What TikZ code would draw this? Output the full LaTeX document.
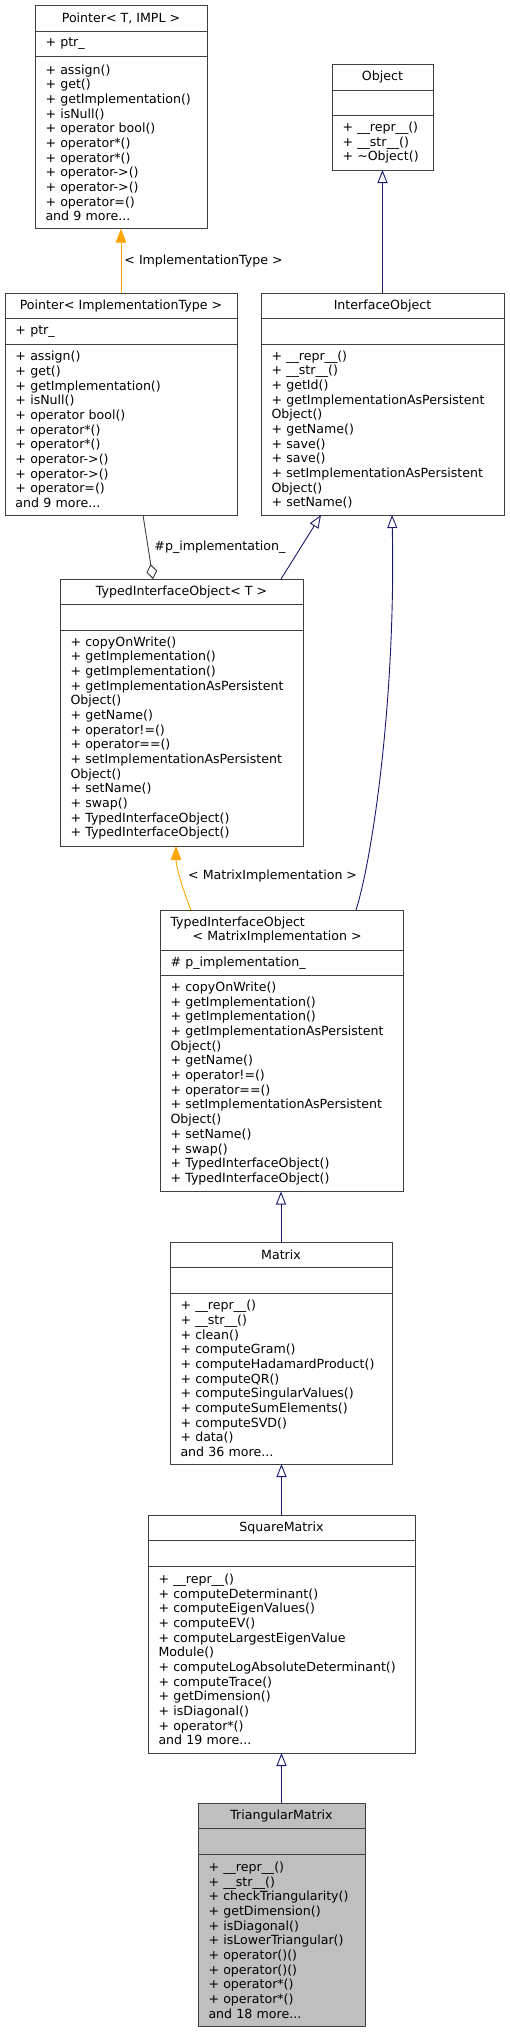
\documentclass[tikz,border=0pt]{standalone}
\usepackage{fontspec}
\setmainfont{DejaVu Sans}
\usepackage{xcolor}
\usepackage{tikz}
\usetikzlibrary{positioning}
\usetikzlibrary{arrows.meta}
\definecolor{edgenavy}{HTML}{191970}
\definecolor{edgeorange}{HTML}{FFA500}
\definecolor{boxline}{HTML}{404040}
\definecolor{focusfill}{HTML}{BFBFBF}
\newcommand{\classfont}{\fontsize{12.6pt}{14.67pt}\selectfont}
\hyphenpenalty=10000
\exhyphenpenalty=10000
\tikzstyle{classtitle}=[rectangle,draw=boxline,fill=white,line width=1pt,font=\classfont,inner xsep=10.5pt,inner ysep=0pt,outer sep=0pt,minimum height=25.5pt,align=center]
\tikzstyle{classattr}=[classtitle,align=left,minimum height=25.5pt]
\tikzstyle{classops}=[classtitle,align=left]
\tikzstyle{focus}=[fill=focusfill]
\tikzstyle{inheritedge}=[draw=edgenavy,line width=0.9pt,-{Triangle[open,length=13pt,width=10pt]}]
\tikzstyle{templedge}=[draw=edgeorange,line width=0.9pt,-{Triangle[length=14pt,width=10.5pt]}]
\tikzstyle{memberedge}=[draw=boxline,line width=0.9pt,-{Diamond[open,length=15pt,width=11pt]}]
\tikzstyle{edgelabel}=[font=\classfont,text=black,inner sep=3pt]

\begin{document}
\begin{tikzpicture}[x=1pt,y=-1pt]

 \useasboundingbox (0,0) rectangle (509,2032);

 %Pointer< T, IMPL >
 \node[classtitle, anchor=north west, minimum width=172pt] (ptrT) at (35,5.7) {Pointer< T, IMPL >};
 \node[classattr, text width=151pt, below=0pt of ptrT] (ptrT-attr) {+ ptr\_};
 \node[classops, text width=151pt, minimum height=172pt, below=0pt of ptrT-attr] (ptrT-ops)
   {+ assign()\\+ get()\\+ getImplementation()\\+ isNull()\\+ operator bool()\\+ operator*()\\+ operator*()\\+ operator->()\\+ operator->()\\+ operator=()\\and 9 more...};

 %Object
 \node[classtitle, anchor=north west, minimum width=101pt] (obj) at (332,64.5) {Object};
 \node[classattr, text width=80pt, below=0pt of obj] (obj-attr) {};
 \node[classops, text width=80pt, minimum height=54.5pt, below=0pt of obj-attr] (obj-ops)
   {+ \_\_repr\_\_()\\+ \_\_str\_\_()\\+ \textasciitilde Object()};

 %Pointer< ImplementationType >
 \node[classtitle, anchor=north west, minimum width=232pt] (ptrIT) at (5,293) {Pointer< ImplementationType >};
 \node[classattr, text width=211pt, below=0pt of ptrIT] (ptrIT-attr) {+ ptr\_};
 \node[classops, text width=211pt, minimum height=171pt, below=0pt of ptrIT-attr] (ptrIT-ops)
   {+ assign()\\+ get()\\+ getImplementation()\\+ isNull()\\+ operator bool()\\+ operator*()\\+ operator*()\\+ operator->()\\+ operator->()\\+ operator=()\\and 9 more...};

 %InterfaceObject
 \node[classtitle, anchor=north west, minimum width=243pt] (iface) at (261,293) {InterfaceObject};
 \node[classattr, text width=222pt, below=0pt of iface] (iface-attr) {};
 \node[classops, text width=222pt, minimum height=171pt, below=0pt of iface-attr] (iface-ops)
   {+ \_\_repr\_\_()\\+ \_\_str\_\_()\\+ getId()\\+ getImplementationAsPersistent\\Object()\\+ getName()\\+ save()\\+ save()\\+ setImplementationAsPersistent\\Object()\\+ setName()};

 %TypedInterfaceObject< T >
 \node[classtitle, anchor=north west, minimum width=243pt] (tioT) at (60,579) {TypedInterfaceObject< T >};
 \node[classattr, text width=222pt, below=0pt of tioT] (tioT-attr) {};
 \node[classops, text width=222pt, minimum height=216pt, below=0pt of tioT-attr] (tioT-ops)
   {+ copyOnWrite()\\+ getImplementation()\\+ getImplementation()\\+ getImplementationAsPersistent\\Object()\\+ getName()\\+ operator!=()\\+ operator==()\\+ setImplementationAsPersistent\\Object()\\+ setName()\\+ swap()\\+ TypedInterfaceObject()\\+ TypedInterfaceObject()};

 %TypedInterfaceObject< MatrixImplementation >
 \node[classtitle, anchor=north west, text width=222pt, align=left, minimum height=40pt] (tioM) at (160,910)
   {TypedInterfaceObject\\\hspace*{22pt}< MatrixImplementation >};
 \node[classattr, text width=222pt, below=0pt of tioM] (tioM-attr) {\# p\_implementation\_};
 \node[classops, text width=222pt, minimum height=216pt, below=0pt of tioM-attr] (tioM-ops)
   {+ copyOnWrite()\\+ getImplementation()\\+ getImplementation()\\+ getImplementationAsPersistent\\Object()\\+ getName()\\+ operator!=()\\+ operator==()\\+ setImplementationAsPersistent\\Object()\\+ setName()\\+ swap()\\+ TypedInterfaceObject()\\+ TypedInterfaceObject()};

 %Matrix
 \node[classtitle, anchor=north west, minimum width=222pt] (matrix) at (170,1242) {Matrix};
 \node[classattr, text width=201pt, below=0pt of matrix] (matrix-attr) {};
 \node[classops, text width=201pt, minimum height=171pt, below=0pt of matrix-attr] (matrix-ops)
   {+ \_\_repr\_\_()\\+ \_\_str\_\_()\\+ clean()\\+ computeGram()\\+ computeHadamardProduct()\\+ computeQR()\\+ computeSingularValues()\\+ computeSumElements()\\+ computeSVD()\\+ data()\\and 36 more...};

 %SquareMatrix
 \node[classtitle, anchor=north west, minimum width=267pt] (sqm) at (148,1515) {SquareMatrix};
 \node[classattr, text width=246pt, below=0pt of sqm] (sqm-attr) {};
 \node[classops, text width=246pt, minimum height=187pt, below=0pt of sqm-attr] (sqm-ops)
   {+ \_\_repr\_\_()\\+ computeDeterminant()\\+ computeEigenValues()\\+ computeEV()\\+ computeLargestEigenValue\\Module()\\+ computeLogAbsoluteDeterminant()\\+ computeTrace()\\+ getDimension()\\+ isDiagonal()\\+ operator*()\\and 19 more...};

 %TriangularMatrix
 \node[classtitle, focus, anchor=north west, minimum width=167pt] (trim) at (198,1803) {TriangularMatrix};
 \node[classattr, focus, text width=146pt, below=0pt of trim] (trim-attr) {};
 \node[classops, focus, text width=146pt, minimum height=172pt, below=0pt of trim-attr] (trim-ops)
   {+ \_\_repr\_\_()\\+ \_\_str\_\_()\\+ checkTriangularity()\\+ getDimension()\\+ isDiagonal()\\+ isLowerTriangular()\\+ operator()()\\+ operator()()\\+ operator*()\\+ operator*()\\and 18 more...};

 %edges
 \path[templedge] (ptrIT.north) -- node[edgelabel, right] {< ImplementationType >} (ptrT-ops.south);
 \path[inheritedge] (iface.north) -- (obj-ops.south);
 \path[memberedge] ([xshift=22pt]ptrIT-ops.south) -- node[edgelabel, right, xshift=3pt] {\#p\_implementation\_} ([xshift=-28.5pt]tioT.north);
 \path[inheritedge] ([xshift=99.5pt]tioT.north) -- ([xshift=-61.5pt]iface-ops.south);
 \path[inheritedge] ([xshift=74.5pt]tioM.north) .. controls (372,860) and (396,700) .. ([xshift=9.5pt]iface-ops.south);
 \path[templedge] ([xshift=-90.5pt]tioM.north) .. controls (181,885) and (176,865) .. node[edgelabel, right, xshift=5pt] {< MatrixImplementation >} ([xshift=-5.5pt]tioT-ops.south);

  \foreach \source/ \dest in {matrix/tioM-ops, sqm/matrix-ops, trim/sqm-ops}
         \path[inheritedge] (\source.north) -- (\source.north |- \dest.south);

\end{tikzpicture}
\end{document}
